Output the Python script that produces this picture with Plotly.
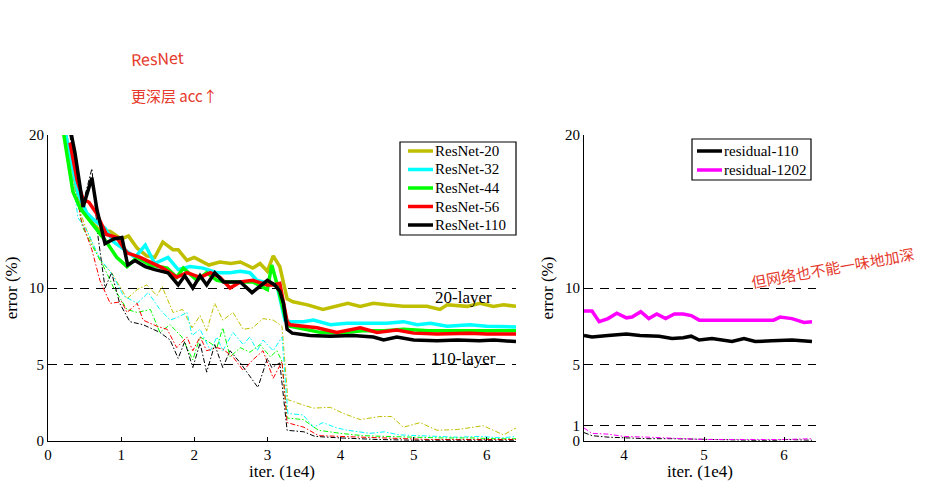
import plotly.graph_objects as go

# ---------------- data (iterations in units of 1e4, error in %) ----------------
r20_x = [0.2, 0.3, 0.4, 0.5, 0.6, 0.7, 0.85, 1.0, 1.1, 1.22, 1.35, 1.46, 1.57, 1.71, 1.78, 1.9, 2.0, 2.2, 2.35, 2.5, 2.63, 2.8, 2.9, 3.0, 3.08, 3.17, 3.27, 3.35, 3.55, 3.76, 4.0, 4.1, 4.27, 4.45, 4.63, 4.86, 5.18, 5.36, 5.46, 5.73, 5.91, 6.09, 6.23, 6.4]
r20_y = [21, 18.5, 16.3, 15.0, 14.3, 13.8, 13.7, 13.2, 13.4, 12.6, 12.1, 12.0, 13.0, 12.5, 12.5, 11.8, 12.0, 11.5, 11.7, 11.6, 11.7, 11.3, 11.6, 11.1, 12.1, 11.4, 9.3, 9.1, 8.9, 8.6, 8.9, 9.0, 8.8, 9.0, 8.9, 8.8, 8.8, 8.6, 8.9, 8.8, 9.0, 8.8, 8.9, 8.8]

r32_x = [0.2, 0.34, 0.41, 0.53, 0.64, 0.78, 0.9, 1.05, 1.19, 1.33, 1.46, 1.64, 1.78, 1.94, 2.12, 2.31, 2.49, 2.63, 2.76, 2.86, 3.04, 3.13, 3.24, 3.31, 3.49, 3.63, 3.86, 4.09, 4.27, 4.45, 4.63, 4.86, 5.05, 5.23, 5.46, 5.77, 6.0, 6.4]
r32_y = [21, 17.7, 16.2, 14.9, 14.4, 13.9, 13.0, 12.5, 12.0, 12.8, 11.6, 12.0, 11.2, 11.4, 11.3, 11.0, 11.0, 11.1, 11.0, 10.5, 10.3, 10.2, 7.9, 7.8, 7.8, 7.9, 7.6, 7.7, 7.7, 7.7, 7.7, 7.8, 7.6, 7.7, 7.5, 7.6, 7.5, 7.45]

r44_x = [0.2, 0.34, 0.44, 0.62, 0.8, 0.94, 1.08, 1.22, 1.4, 1.63, 1.76, 1.85, 2.04, 2.17, 2.31, 2.45, 2.63, 2.8, 3.0, 3.06, 3.13, 3.25, 3.31, 3.72, 4.0, 4.3, 4.6, 4.86, 5.2, 5.5, 5.8, 6.1, 6.4]
r44_y = [20.5, 16.3, 15.2, 14.1, 13.0, 12.0, 11.4, 12.0, 11.5, 11.3, 10.7, 11.3, 10.5, 11.0, 10.5, 10.4, 10.4, 10.4, 9.9, 11.5, 10.3, 8.0, 7.5, 7.1, 7.06, 7.2, 7.2, 7.3, 7.2, 7.2, 7.15, 7.2, 7.2]

r56_x = [0.3, 0.4, 0.48, 0.56, 0.66, 0.8, 0.94, 1.08, 1.26, 1.4, 1.57, 1.76, 1.9, 2.08, 2.22, 2.35, 2.49, 2.63, 2.8, 3.0, 3.08, 3.17, 3.27, 3.31, 3.68, 3.95, 4.27, 4.5, 4.77, 5.0, 5.32, 5.77, 6.0, 6.4]
r56_y = [19.5, 17.0, 15.8, 15.6, 14.9, 13.5, 13.3, 12.3, 12.0, 11.7, 11.3, 10.7, 11.0, 10.7, 11.0, 10.7, 10.0, 10.4, 10.5, 10.2, 10.2, 10.3, 7.8, 7.6, 7.4, 7.1, 7.4, 7.1, 7.25, 7.05, 7.0, 7.05, 7.0, 7.0]

r110_x = [0.3, 0.37, 0.48, 0.6, 0.67, 0.78, 0.9, 1.01, 1.09, 1.19, 1.33, 1.46, 1.64, 1.78, 1.87, 1.98, 2.08, 2.17, 2.28, 2.4, 2.63, 2.79, 3.0, 3.1, 3.17, 3.22, 3.27, 3.34, 3.58, 3.86, 4.17, 4.45, 4.59, 4.77, 5.0, 5.32, 5.6, 5.9, 6.1, 6.4]
r110_y = [20.5, 18.8, 15.3, 17.2, 15.1, 12.9, 13.2, 13.3, 11.5, 11.8, 11.4, 11.2, 11.0, 10.2, 10.8, 10.0, 10.8, 10.2, 11.0, 10.4, 10.4, 9.7, 10.5, 10.2, 9.8, 9.0, 7.3, 7.05, 6.9, 6.85, 6.9, 6.8, 6.6, 6.8, 6.6, 6.55, 6.6, 6.55, 6.6, 6.5]

# training error (thin dash-dot)
t20_x = [0.25, 0.4, 0.55, 0.71, 0.87, 1.08, 1.22, 1.35, 1.49, 1.56, 1.71, 1.84, 1.97, 2.08, 2.17, 2.28, 2.39, 2.53, 2.67, 2.8, 2.94, 3.08, 3.2, 3.28, 3.49, 3.63, 3.86, 4.04, 4.27, 4.54, 4.7, 4.86, 5.09, 5.32, 5.6, 5.95, 6.23, 6.4]
t20_y = [20, 15.5, 13.5, 11.8, 11.0, 9.3, 9.9, 10.2, 9.5, 10.1, 8.4, 8.6, 7.4, 8.2, 7.2, 9.0, 7.9, 8.4, 7.3, 7.4, 8.0, 7.9, 7.5, 2.7, 2.35, 2.15, 2.2, 1.8, 1.4, 1.6, 1.6, 0.9, 1.2, 0.7, 0.75, 1.0, 0.4, 0.85]

t32_x = [0.25, 0.41, 0.55, 0.7, 0.89, 1.03, 1.22, 1.37, 1.53, 1.67, 1.78, 1.9, 1.97, 2.08, 2.22, 2.31, 2.39, 2.53, 2.67, 2.76, 2.86, 2.94, 3.08, 3.2, 3.28, 3.49, 3.63, 3.76, 3.95, 4.1, 4.4, 4.6, 4.8, 5.0, 5.3, 5.6, 5.9, 6.2, 6.4]
t32_y = [20, 14.6, 13.6, 12.0, 10.8, 9.5, 9.0, 9.7, 8.6, 7.9, 8.1, 8.4, 6.9, 7.3, 5.9, 6.8, 5.9, 7.1, 6.3, 6.8, 5.9, 6.6, 5.9, 6.8, 1.8, 1.7, 0.9, 1.2, 0.85, 0.7, 0.5, 0.6, 0.4, 0.35, 0.3, 0.25, 0.3, 0.2, 0.3]

t44_x = [0.25, 0.47, 0.6, 0.75, 0.9, 1.08, 1.22, 1.4, 1.53, 1.67, 1.83, 1.98, 2.08, 2.19, 2.31, 2.39, 2.49, 2.63, 2.76, 2.9, 3.04, 3.13, 3.2, 3.27, 3.49, 3.7, 4.0, 4.3, 4.6, 5.0, 5.4, 5.8, 6.1, 6.4]
t44_y = [20, 14.0, 12.8, 11.5, 10.0, 8.6, 8.4, 8.6, 7.1, 7.6, 6.8, 5.3, 6.8, 6.5, 6.1, 7.4, 5.5, 6.1, 5.8, 6.3, 5.5, 5.9, 5.2, 1.5, 1.4, 0.7, 0.5, 0.35, 0.3, 0.25, 0.2, 0.2, 0.15, 0.15]

t56_x = [0.25, 0.45, 0.6, 0.71, 0.85, 1.01, 1.08, 1.22, 1.3, 1.49, 1.63, 1.76, 1.9, 1.98, 2.08, 2.17, 2.31, 2.39, 2.53, 2.67, 2.8, 2.94, 3.08, 3.2, 3.27, 3.5, 3.7, 4.0, 4.4, 4.8, 5.2, 5.6, 6.0, 6.4]
t56_y = [20, 14.5, 12.5, 10.5, 9.0, 9.1, 8.4, 9.0, 7.9, 7.5, 7.3, 6.1, 6.8, 5.9, 6.8, 5.9, 6.1, 6.0, 5.5, 4.6, 5.3, 5.9, 4.1, 5.2, 1.2, 0.9, 0.35, 0.3, 0.2, 0.15, 0.1, 0.1, 0.1, 0.1]

t110_x = [0.3, 0.45, 0.6, 0.68, 0.78, 0.87, 0.98, 1.12, 1.3, 1.4, 1.53, 1.67, 1.78, 1.87, 1.98, 2.08, 2.17, 2.28, 2.39, 2.49, 2.63, 2.72, 2.87, 3.0, 3.06, 3.17, 3.27, 3.5, 3.65, 4.0, 4.5, 5.0, 5.5, 6.0, 6.4]
t110_y = [20, 15.0, 17.8, 13.5, 10.0, 11.0, 9.0, 7.8, 7.6, 7.4, 7.1, 6.6, 5.4, 6.5, 4.8, 6.4, 4.5, 6.3, 4.8, 5.9, 5.1, 4.5, 3.5, 5.4, 4.8, 5.1, 0.7, 0.6, 0.3, 0.2, 0.1, 0.05, 0.05, 0.05, 0.05]

# right panel
res110_x = [3.5, 3.6, 3.8, 4.03, 4.2, 4.44, 4.6, 4.74, 4.84, 4.94, 5.1, 5.35, 5.5, 5.64, 5.85, 6.1, 6.35]
res110_y = [6.9, 6.8, 6.9, 7.0, 6.9, 6.85, 6.7, 6.75, 6.85, 6.6, 6.7, 6.5, 6.7, 6.5, 6.55, 6.6, 6.5]
res1202_x = [3.5, 3.6, 3.69, 3.8, 3.91, 4.03, 4.1, 4.21, 4.31, 4.41, 4.52, 4.63, 4.74, 4.84, 4.94, 5.15, 5.45, 5.7, 5.87, 5.95, 6.1, 6.25, 6.35]
res1202_y = [8.5, 8.5, 7.8, 8.0, 8.35, 8.05, 8.1, 8.45, 8.0, 8.3, 8.0, 8.3, 8.3, 8.2, 7.9, 7.9, 7.95, 7.9, 7.9, 8.1, 8.0, 7.75, 7.8]
tr_right_x = [3.5, 3.6, 3.8, 4.0, 4.3, 4.6, 5.0, 5.3, 5.6, 5.9, 6.0, 6.35]
tr110_y = [0.55, 0.35, 0.25, 0.2, 0.15, 0.15, 0.1, 0.05, 0.05, 0.05, 0.1, 0.05]
tr1202_y = [0.85, 0.5, 0.45, 0.3, 0.25, 0.2, 0.1, 0.1, 0.1, 0.1, 0.1, 0.15]

left_ticks = [0, 5, 10, 20]
right_ticks = [0, 1, 5, 10, 20]
left_names = ["ResNet-20", "ResNet-32", "ResNet-44", "ResNet-56", "ResNet-110"]
right_names = ["residual-110", "residual-1202"]

OLIVE = "#BFBF00"
CYAN = "#00FFFF"
GREEN = "#00FF00"
RED = "#FF0000"
BLACK = "#000000"
MAGENTA = "#FF00FF"
SERIF = "Liberation Serif, Times New Roman, serif"
TRAIN_DASH = "5px,2px,1.5px,2px"

fig = go.Figure()

train = [(t20_x, t20_y, OLIVE), (t32_x, t32_y, CYAN), (t44_x, t44_y, GREEN),
         (t56_x, t56_y, RED), (t110_x, t110_y, BLACK)]
for xs, ys, c in train:
    fig.add_trace(go.Scatter(x=xs, y=ys, mode="lines", showlegend=False, hoverinfo="skip",
                             line=dict(color=c, width=1, dash=TRAIN_DASH), xaxis="x", yaxis="y"))

left_colors = [OLIVE, CYAN, GREEN, RED, BLACK]
test = [(r20_x, r20_y), (r32_x, r32_y), (r44_x, r44_y), (r56_x, r56_y), (r110_x, r110_y)]
for (xs, ys), c, n in zip(test, left_colors, left_names):
    fig.add_trace(go.Scatter(x=xs, y=ys, mode="lines", name=n, showlegend=False,
                             line=dict(color=c, width=3.5), xaxis="x", yaxis="y"))

fig.add_trace(go.Scatter(x=tr_right_x, y=tr110_y, mode="lines", showlegend=False,
                         line=dict(color=BLACK, width=1, dash=TRAIN_DASH), xaxis="x2", yaxis="y2"))
fig.add_trace(go.Scatter(x=tr_right_x, y=tr1202_y, mode="lines", showlegend=False,
                         line=dict(color=MAGENTA, width=1, dash=TRAIN_DASH), xaxis="x2", yaxis="y2"))
right_colors = [BLACK, MAGENTA]
for (xs, ys), c, n in zip([(res110_x, res110_y), (res1202_x, res1202_y)], right_colors, right_names):
    fig.add_trace(go.Scatter(x=xs, y=ys, mode="lines", name=n, showlegend=False,
                             line=dict(color=c, width=3.5), xaxis="x2", yaxis="y2"))

W, H = 938, 481


def px(x):
    return x / W


def py(y):
    return 1 - y / H


ydom = [py(441), py(135)]

common_y = dict(range=[0, 20], showgrid=True, gridcolor="black", gridwidth=1, griddash="9px,7px",
                showline=True, linecolor="black", linewidth=1.2, ticks="inside", ticklen=4,
                tickcolor="black", zeroline=False, automargin=False,
                tickfont=dict(family=SERIF, size=15, color="black"),
                title=dict(text="error (%)", font=dict(family=SERIF, size=17, color="black"), standoff=6))
common_x = dict(showgrid=False, showline=True, linecolor="black", linewidth=1.2, ticks="inside",
                ticklen=4, tickcolor="black", zeroline=False, automargin=False,
                tickfont=dict(family=SERIF, size=15, color="black"),
                title=dict(text="iter. (1e4)", font=dict(family=SERIF, size=17, color="black"), standoff=2))

fig.update_layout(
    template="none",
    width=W, height=H, margin=dict(l=0, r=0, t=0, b=0, autoexpand=False),
    paper_bgcolor="white", plot_bgcolor="white",
    xaxis=dict(domain=[px(48), px(516)], range=[0, 6.4], tickvals=[0, 1, 2, 3, 4, 5, 6], anchor="y", **common_x),
    yaxis=dict(domain=ydom, tickvals=left_ticks, anchor="x", **common_y),
    xaxis2=dict(domain=[px(584), px(816)], range=[3.5, 6.4], tickvals=[4, 5, 6], anchor="y2", **common_x),
    yaxis2=dict(domain=ydom, tickvals=right_ticks, anchor="x2", **common_y),
    showlegend=False,
)


# legend boxes (drawn as shapes + text)
def draw_legend(x0, x1, y0, y1, first_y, step, sx0, sx1, tx, names, colors):
    fig.add_shape(type="rect", xref="paper", yref="paper", x0=px(x0), x1=px(x1), y0=py(y1), y1=py(y0),
                  line=dict(color="black", width=1.2), fillcolor="white", layer="above")
    for i, (n, c) in enumerate(zip(names, colors)):
        yy = first_y + i * step
        fig.add_shape(type="line", xref="paper", yref="paper", x0=px(sx0), x1=px(sx1), y0=py(yy), y1=py(yy),
                      line=dict(color=c, width=3.5), layer="above")
        fig.add_annotation(x=px(tx), y=py(yy), xref="paper", yref="paper", text=n, showarrow=False,
                           xanchor="left", yanchor="middle",
                           font=dict(family=SERIF, size=15, color="black"))


draw_legend(400, 516, 142, 235, 151, 18.5, 408, 433, 433, left_names, left_colors)
draw_legend(692, 811, 139, 180, 151, 19, 697, 722, 722, right_names, right_colors)

fig.add_annotation(x=5.68, y=9.41, xref="x", yref="y", text="20-layer", showarrow=False,
                   font=dict(family=SERIF, size=17, color="black"))
fig.add_annotation(x=5.68, y=5.42, xref="x", yref="y", text="110-layer", showarrow=False,
                   font=dict(family=SERIF, size=17, color="black"))

HAND = "#E5392B"
CJK = "Noto Sans CJK SC"
fig.add_annotation(x=px(157), y=py(58), xref="paper", yref="paper", text="ResNet", showarrow=False,
                   xanchor="center", yanchor="middle",
                   font=dict(family=CJK, size=16, color=HAND), textangle=-3)
fig.add_annotation(x=px(174), y=py(95), xref="paper", yref="paper", text="更深层 acc↑", showarrow=False,
                   xanchor="center", yanchor="middle",
                   font=dict(family=CJK, size=15, color=HAND))
fig.add_annotation(x=px(832), y=py(267), xref="paper", yref="paper", text="但网络也不能一味地加深",
                   showarrow=False, xanchor="center", yanchor="middle",
                   font=dict(family=CJK, size=15, color=HAND), textangle=-10)

fig.write_html("out.html", config={"displayModeBar": False},
               post_script="document.body.style.margin='0px';document.body.style.overflow='hidden';")
